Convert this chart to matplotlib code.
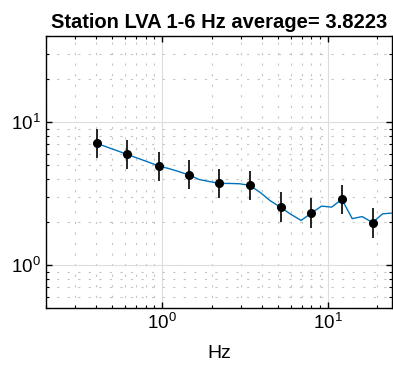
import numpy as np
import matplotlib.pyplot as plt
from matplotlib.ticker import LogLocator, NullFormatter

plt.rcParams['font.family'] = ['Liberation Sans', 'DejaVu Sans']
plt.rcParams['mathtext.fontset'] = 'custom'
plt.rcParams['mathtext.rm'] = 'Liberation Sans'

# averaged spectrum (blue line)
line_freq = [0.407, 0.469, 0.540, 0.620, 0.716, 0.825, 0.955, 1.10, 1.26, 1.456,
             1.68, 1.93, 2.22, 2.56, 2.95, 3.40, 3.92, 4.52, 5.22, 6.01,
             6.93, 8.00, 9.20, 10.6, 12.2, 14.1, 16.2, 18.7, 21.5, 24.8]
line_amp = [7.08, 6.67, 6.29, 5.93, 5.58, 5.26, 4.93, 4.73, 4.51, 4.27,
            3.96, 3.84, 3.72, 3.72, 3.70, 3.60, 3.22, 2.81, 2.53, 2.26,
            2.05, 2.31, 2.58, 2.54, 2.88, 2.11, 2.18, 1.98, 2.28, 2.31]

# band averages with error bars
pt_freq = [0.407, 0.620, 0.955, 1.456, 2.22, 3.40, 5.22, 8.00, 12.2, 18.7]
pt_amp = [7.08, 5.93, 4.91, 4.27, 3.72, 3.60, 2.53, 2.31, 2.88, 1.98]
pt_hi = [8.96, 7.51, 6.22, 5.41, 4.71, 4.56, 3.22, 2.92, 3.64, 2.49]
pt_lo = [5.58, 4.68, 3.89, 3.38, 2.94, 2.83, 2.00, 1.81, 2.29, 1.55]

amp = np.array(pt_amp)
yerr = [amp - np.array(pt_lo), np.array(pt_hi) - amp]

fig = plt.figure(figsize=(3.93, 3.72), dpi=100)
ax = fig.add_axes([46 / 393, (372 - 308) / 372, (392 - 46) / 393, (308 - 36) / 372])

ax.plot(line_freq, line_amp, color='#0072BD', lw=1.0, zorder=3)
ax.errorbar(pt_freq, pt_amp, yerr=yerr, fmt='o', color='black', ms=5.5,
            elinewidth=1.2, capsize=0, zorder=4)

ax.set_xscale('log')
ax.set_yscale('log')
ax.set_xlim(0.2, 24.5)
ax.set_ylim(0.5, 40)

ax.xaxis.set_major_locator(LogLocator(base=10, numticks=10))
ax.xaxis.set_minor_locator(LogLocator(base=10, subs=np.arange(2, 10), numticks=20))
ax.yaxis.set_major_locator(LogLocator(base=10, numticks=10))
ax.yaxis.set_minor_locator(LogLocator(base=10, subs=np.arange(2, 10), numticks=20))
ax.xaxis.set_minor_formatter(NullFormatter())
ax.yaxis.set_minor_formatter(NullFormatter())

ax.grid(True, which='major', color='#dcdcdc', lw=0.8, ls='-')
ax.grid(True, which='minor', color='#c4c4c4', lw=0.8, ls=(0, (2, 7.5)))
ax.set_axisbelow(True)

ax.tick_params(which='both', direction='in', top=True, right=True, labelsize=13.5)
ax.tick_params(which='major', length=4, width=1)
ax.tick_params(which='minor', length=2.5, width=0.8)
for s in ax.spines.values():
    s.set_linewidth(1.0)

ax.set_xlabel('Hz', fontsize=14, labelpad=9)
ax.set_title('Station LVA 1-6 Hz average= 3.8223', fontsize=14.5, fontweight='bold', pad=6)

fig.savefig('out.png', dpi=100)
